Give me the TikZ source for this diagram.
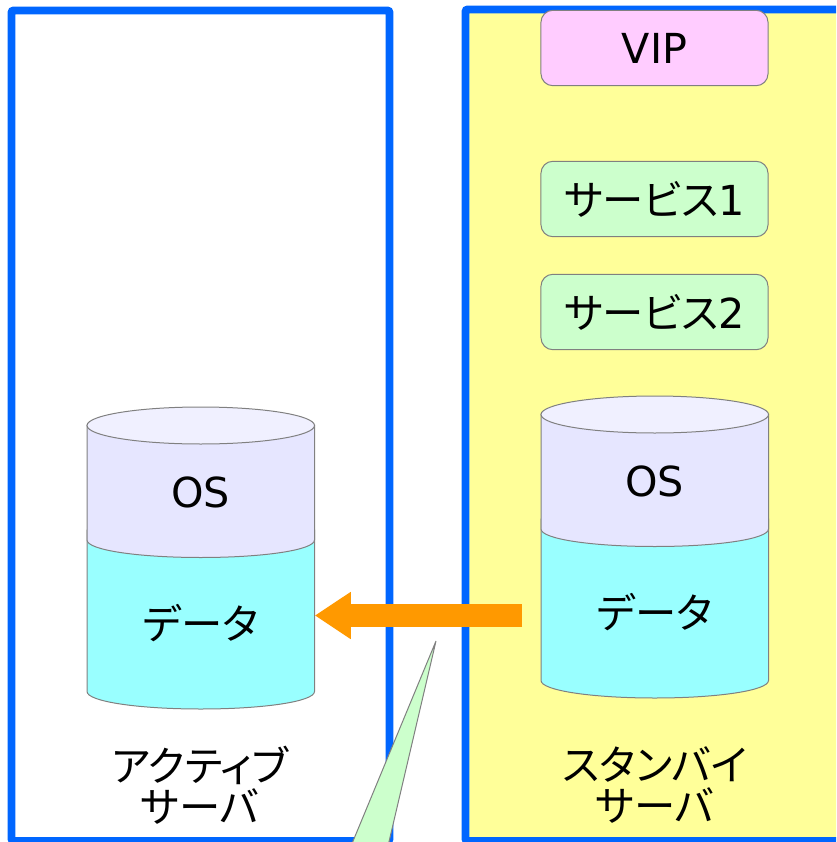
\documentclass[tikz,border=0pt]{standalone}
\usepackage{fontspec}
\setmainfont{DejaVu Sans}
\newfontfamily\cjk[RawFeature=+palt]{Noto Sans CJK JP}
\usetikzlibrary{arrows.meta}
\definecolor{panelblue}{RGB}{0,102,255}
\definecolor{panelyellow}{RGB}{255,255,153}
\definecolor{vippink}{RGB}{255,204,255}
\definecolor{servicegreen}{RGB}{204,255,204}
\definecolor{oslilac}{RGB}{230,230,255}
\definecolor{ostop}{RGB}{240,240,255}
\definecolor{datacyan}{RGB}{153,255,255}
\definecolor{edgegray}{RGB}{128,128,128}
\definecolor{copyorange}{RGB}{255,153,0}
\tikzset{
	panel/.style={draw=panelblue,line width=5.8pt,rounded corners=1.5pt},
	servicebox/.style={draw=edgegray,line width=0.75pt,rounded corners=9pt,minimum width=170.3pt,minimum height=56.6pt,inner sep=0pt},
	disk/.style={draw=edgegray,line width=0.75pt},
	diskbody/.style={minimum width=170.6pt,minimum height=113pt,inner sep=0pt},
	label/.style={font=\fontsize{31}{31}\selectfont,align=center,inner sep=0pt},
	cjklabel/.style={label,font=\fontsize{31}{31}\selectfont\cjk},
}
\begin{document}
\begin{tikzpicture}[x=0.75pt,y=0.75pt,yscale=-1,xscale=1]
	\useasboundingbox (0,0) rectangle (836,842);
	\clip (0,0) rectangle (836,842);
	
	% Server panels
	\draw [panel] (11.5,10.5) rectangle (389.5,841);
	\draw [panel,fill=panelyellow] (465.5,9.5) rectangle (860,841);
	
	% Active disk
	\draw [disk,fill=datacyan] (87,530) -- (87,691.5) .. controls (87,701.5) and (138,709) .. (200.75,709) .. controls (263.5,709) and (314.5,701.5) .. (314.5,691.5) -- (314.5,530) -- cycle;
	\draw [disk,fill=oslilac] (87,425) -- (87,540) .. controls (87,550) and (138,557.5) .. (200.75,557.5) .. controls (263.5,557.5) and (314.5,550) .. (314.5,540) -- (314.5,425) -- cycle;
	\draw [disk,fill=ostop] (200.75,425.5) ellipse (113.75 and 18.5);
	% Standby disk
	\draw [disk,fill=datacyan] (541,519) -- (541,680.5) .. controls (541,690.5) and (592,698) .. (654.75,698) .. controls (717.5,698) and (768.5,690.5) .. (768.5,680.5) -- (768.5,519) -- cycle;
	\draw [disk,fill=oslilac] (541,414) -- (541,529) .. controls (541,539) and (592,546.5) .. (654.75,546.5) .. controls (717.5,546.5) and (768.5,539) .. (768.5,529) -- (768.5,414) -- cycle;
	\draw [disk,fill=ostop] (654.75,414.5) ellipse (113.75 and 18.5);
	
	% Disk bodies
	\node [diskbody] (activedata) at (200.75,615.5) {};
	\node [diskbody] (standbydata) at (654.75,604.5) {};
	
	% Service boxes
	\node [servicebox,fill=vippink,label] (vip) at (654.5,48) {VIP};
	\node [servicebox,fill=servicegreen,label] (service1) at (654.5,199) {{\cjk サービス}1};
	\node [servicebox,fill=servicegreen,label] (service2) at (654.5,312) {{\cjk サービス}2};
	
	% Text Node
	\node [label] (activeos) at (200.75,492) {OS};
	\node [cjklabel] (activedatalabel) at (200.75,623) {データ};
	\node [label] (standbyos) at (654.75,481) {OS};
	\node [cjklabel] (standbydatalabel) at (654.75,612) {データ};
	\node [cjklabel] (activename) at (200,785) {アクティブ\\サーバ};
	\node [cjklabel] (standbyname) at (655,785) {スタンバイ\\サーバ};
	
	% Connection
	\coordinate (copystart) at (522,615.5);
	\draw [copyorange,line width=16.9pt,-{Triangle[length=27pt,width=33.5pt]}] (copystart) -- (activedata);
	
	% Callout
	\draw [disk,fill=servicegreen] (436,641) -- (351,846) -- (388,846) -- cycle;
\end{tikzpicture}
\end{document}
